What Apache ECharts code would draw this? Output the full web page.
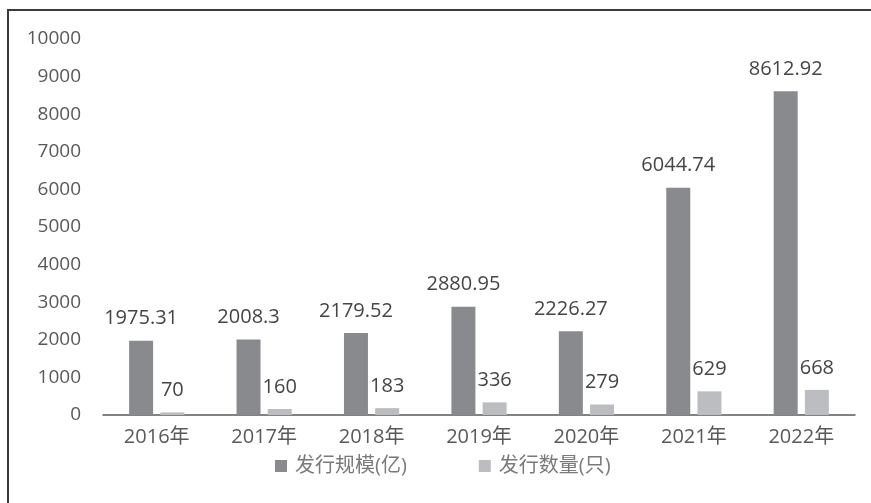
<!DOCTYPE html>
<html>
<head>
<meta charset="utf-8">
<script src="https://cdn.jsdelivr.net/npm/echarts@6/dist/echarts.min.js"></script>
<style>
  html, body { margin: 0; padding: 0; background: #fff; }
  #chart { width: 871px; height: 503px; }
</style>
</head>
<body>
<div id="chart"></div>
<script>
// Issuance by year: amount (100M yuan) and count
const years = ['2016年', '2017年', '2018年', '2019年', '2020年', '2021年', '2022年'];
const scaleValues = [1975.31, 2008.3, 2179.52, 2880.95, 2226.27, 6044.74, 8612.92];
const countValues = [70, 160, 183, 336, 279, 629, 668];
const seriesNames = ['发行规模(亿)', '发行数量(只)'];

const FONT = '"Open Sans", "Noto Sans CJK SC", sans-serif';

const chart = echarts.init(document.getElementById('chart'));

const labelStyle = {
  show: true,
  position: 'top',
  distance: 12,
  color: '#454545',
  fontSize: 20,
  fontFamily: FONT
};

chart.setOption({
  animation: false,
  backgroundColor: '#ffffff',
  textStyle: { fontFamily: FONT },
  graphic: [{
    type: 'rect',
    shape: { x: 8, y: 10, width: 900, height: 600 },
    style: { fill: 'none', stroke: '#3a3a3a', lineWidth: 2 },
    silent: true
  }],
  grid: { left: 103, right: 16, top: 39, bottom: 88 },
  legend: {
    data: seriesNames,
    left: 275,
    top: 456,
    padding: 0,
    icon: 'rect',
    itemWidth: 12,
    itemHeight: 12,
    itemGap: 72,
    textStyle: { color: '#7a7a7a', fontSize: 20, fontFamily: FONT, padding: [0, 0, 0, 3] }
  },
  xAxis: {
    type: 'category',
    data: years,
    axisLine: { lineStyle: { color: '#5a5a5a', width: 1.5 } },
    axisTick: { show: false },
    axisLabel: { color: '#595959', fontSize: 20, margin: 12, fontFamily: FONT }
  },
  yAxis: {
    type: 'value',
    min: 0,
    max: 10000,
    interval: 1000,
    axisLine: { show: false },
    axisTick: { show: false },
    splitLine: { show: false },
    axisLabel: {
      color: '#595959',
      fontSize: 19,
      margin: 22,
      fontFamily: FONT,
      formatter: (v) => String(v)
    }
  },
  series: [
    {
      name: seriesNames[0],
      type: 'bar',
      data: scaleValues,
      barWidth: 24,
      barGap: '30%',
      itemStyle: { color: '#898a8e' },
      label: labelStyle
    },
    {
      name: seriesNames[1],
      type: 'bar',
      data: countValues,
      barWidth: 24,
      itemStyle: { color: '#bcbdc0' },
      label: labelStyle
    }
  ]
});
</script>
</body>
</html>
